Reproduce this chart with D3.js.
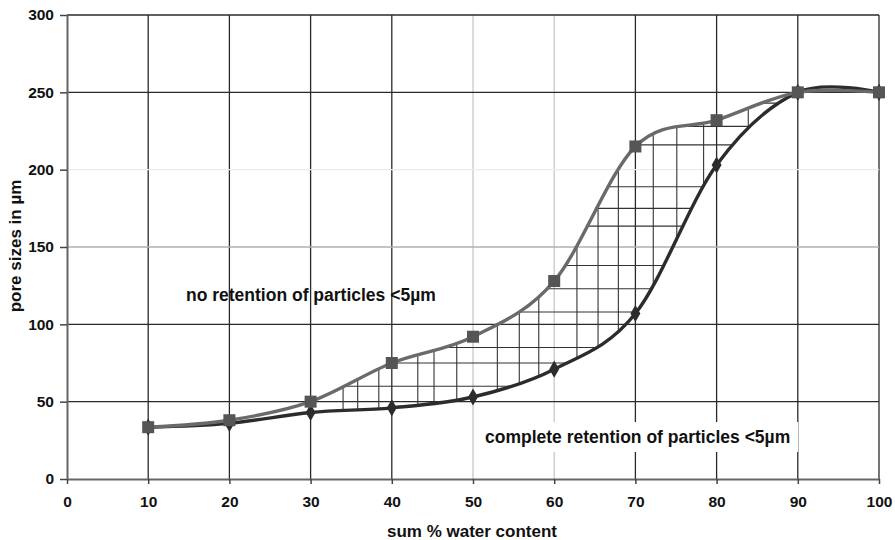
<!DOCTYPE html>
<html>
<head>
<meta charset="utf-8">
<script src="https://d3js.org/d3.v7.min.js"></script>
<style>
  body { margin: 0; background: white; }
  text { font-family: "Liberation Sans", Arial, sans-serif; }
</style>
</head>
<body>
<svg id="svg"></svg>
<script>
// ****************************************
// Data

var water_content = [10, 20, 30, 40, 50, 60, 70, 80, 90, 100];
var no_retention = [33.5, 38, 50, 75, 92, 128, 215, 232, 250, 250];
var complete_retention = [33.5, 36, 43, 46, 53, 71, 107, 203, 250, 250];

var x_ticks = [0, 10, 20, 30, 40, 50, 60, 70, 80, 90, 100];
var y_ticks = [0, 50, 100, 150, 200, 250, 300];

// hatching drawn by hand between the two curves
var hatch_x = [34, 35.8, 38.4, 43.2, 45.2, 48, 53, 55.7, 58.1, 62.8, 65.4, 67.9, 72.2, 75.1, 78.4, 83.9];
var hatch_y = [60, 75, 85, 108, 123, 138, 163.5, 175, 189, 216, 228, 243];

// gridlines that came out faint in the scan
var faint_x = { 50: '#c8c8c8', 60: '#c8c8c8' };
var faint_y = { 150: '#b0b0b0', 200: '#ececec' };

var labels = {
  upper: 'no retention of particles <5\u00b5m',
  lower: 'complete retention of particles <5\u00b5m',
  x: 'sum % water content',
  y: 'pore sizes in \u00b5m'
};

// ****************************************
// Setup

var width = 895, height = 540;
var svg = d3.select('#svg').attr('width', width).attr('height', height);

var x = d3.scaleLinear().domain([0, 100]).range([67, 879]);
var y = d3.scaleLinear().domain([0, 300]).range([479, 15]);

var rows = water_content.map((d, i) => ({ x: d, up: no_retention[i], lo: complete_retention[i] }));
var curve = d3.curveCardinal.tension(0);

// ****************************************
// Grid

svg.append('g').selectAll('line').data(x_ticks.slice(1)).join('line')
  .attr('x1', d => x(d)).attr('x2', d => x(d)).attr('y1', y(0)).attr('y2', y(300))
  .style('stroke', d => faint_x[d] || '#2a2a2a').style('stroke-width', 1.3);

svg.append('g').selectAll('line').data(y_ticks.slice(1)).join('line')
  .attr('x1', x(0)).attr('x2', x(100)).attr('y1', d => y(d)).attr('y2', d => y(d))
  .style('stroke', d => faint_y[d] || '#2a2a2a').style('stroke-width', 1.3);

// ****************************************
// Axes

var x_axis = svg.append('g').attr('transform', 'translate(0,' + y(0) + ')')
  .call(d3.axisBottom(x).tickValues(x_ticks).tickSize(5).tickSizeOuter(0));
var y_axis = svg.append('g').attr('transform', 'translate(' + x(0) + ',0)')
  .call(d3.axisLeft(y).tickValues(y_ticks).tickSize(7).tickSizeOuter(0));

[x_axis, y_axis].forEach(a => {
  a.select('.domain').style('stroke', '#666').style('stroke-width', 2);
  a.selectAll('.tick line').style('stroke', '#444').style('stroke-width', 1.5);
  a.selectAll('.tick text').style('font-size', '15.5px').style('font-weight', 'bold').style('fill', '#111');
});
x_axis.selectAll('.tick text').attr('y', 17).attr('dy', '0.71em');
y_axis.selectAll('.tick text').attr('x', -13);

// ****************************************
// Hatching between curves

var area = d3.area().x(d => x(d.x)).y0(d => y(d.lo)).y1(d => y(d.up)).curve(curve);
svg.append('clipPath').attr('id', 'between').append('path').attr('d', area(rows));

var hatch = svg.append('g').attr('clip-path', 'url(#between)');
hatch.selectAll('line.v').data(hatch_x).join('line').attr('class', 'v')
  .attr('x1', d => x(d)).attr('x2', d => x(d)).attr('y1', y(0)).attr('y2', y(300))
  .style('stroke', '#333').style('stroke-width', 1.1);
hatch.selectAll('line.h').data(hatch_y).join('line').attr('class', 'h')
  .attr('x1', x(0)).attr('x2', x(100)).attr('y1', d => y(d)).attr('y2', d => y(d))
  .style('stroke', '#333').style('stroke-width', 1.1);

// ****************************************
// Curves and markers

var line_lo = d3.line().x(d => x(d.x)).y(d => y(d.lo)).curve(curve);
var line_up = d3.line().x(d => x(d.x)).y(d => y(d.up)).curve(curve);

svg.append('path').attr('d', line_lo(rows))
  .style('fill', 'none').style('stroke', '#2c2c2c').style('stroke-width', 3.4);
svg.append('path').attr('d', line_up(rows))
  .style('fill', 'none').style('stroke', '#6a6a6a').style('stroke-width', 3.4);

svg.append('g').selectAll('path').data(rows).join('path')
  .attr('d', d3.symbol().type(d3.symbolDiamond).size(85))
  .attr('transform', d => 'translate(' + x(d.x) + ',' + y(d.lo) + ')')
  .style('fill', '#2c2c2c');

svg.append('g').selectAll('rect').data(rows).join('rect')
  .attr('x', d => x(d.x) - 6).attr('y', d => y(d.up) - 6)
  .attr('width', 12).attr('height', 12)
  .style('fill', '#555');

// ****************************************
// Labels

svg.append('text').attr('x', 186).attr('y', 301).text(labels.upper)
  .style('font-size', '17.5px').style('font-weight', 'bold').style('fill', '#111');

var lo_group = svg.append('g');
var lo_box = lo_group.append('rect').style('fill', 'white');
var lo_label = lo_group.append('text').attr('x', 485).attr('y', 443).text(labels.lower)
  .style('font-size', '17.5px').style('font-weight', 'bold').style('fill', '#111');
var bb = lo_label.node().getBBox();
lo_box.attr('x', bb.x - 6).attr('y', 422).attr('width', bb.width + 14).attr('height', 30);

svg.append('text').attr('x', 472).attr('y', 537).attr('text-anchor', 'middle')
  .text(labels.x).style('font-size', '17px').style('font-weight', 'bold').style('fill', '#111');

svg.append('text').attr('transform', 'translate(21,246) rotate(-90)').attr('text-anchor', 'middle')
  .text(labels.y).style('font-size', '17px').style('font-weight', 'bold').style('fill', '#111');
</script>
</body>
</html>
